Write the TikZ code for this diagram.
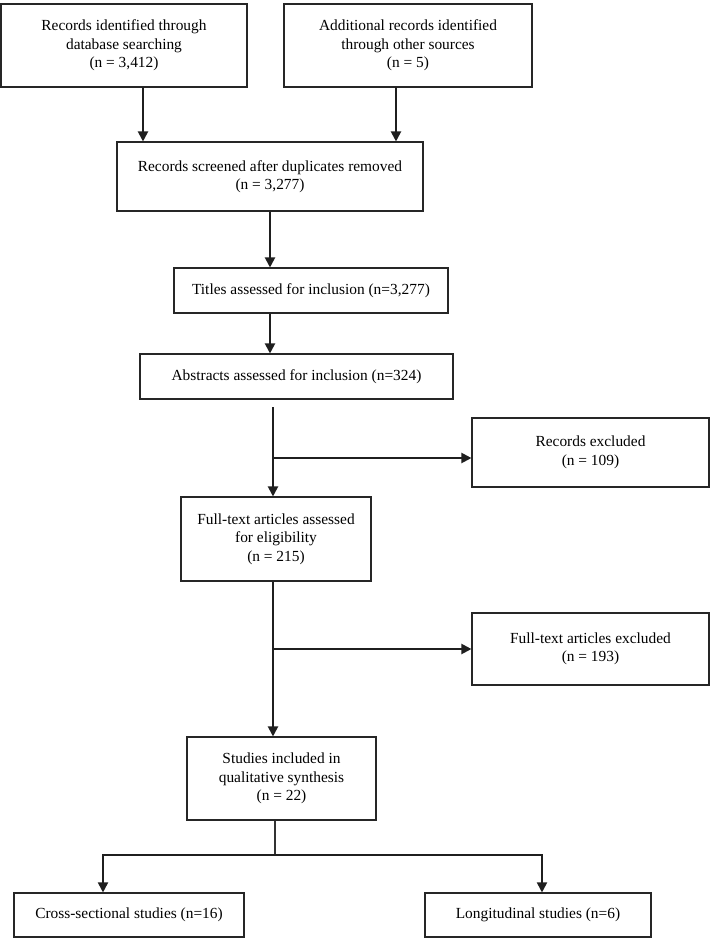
\documentclass[tikz,border=0pt]{standalone}
\usepackage{fontspec}
\setmainfont{Liberation Serif}
\usetikzlibrary{arrows.meta}
\begin{document}
\begin{tikzpicture}[x=1pt,y=-1pt,
  box/.style={draw=black!85, line width=1.1pt, align=center, inner sep=0pt,
    font=\fontsize{15.4}{18.5}\selectfont},
  arr/.style={draw=black!88, line width=2pt, -{Triangle[length=10pt,width=10pt]}},
  arrtwo/.style={draw=black!88, line width=1.8pt, {Triangle[length=10pt,width=10pt]}-{Triangle[length=10pt,width=10pt]}},
  thinline/.style={draw=black!80, line width=1.1pt}]
\useasboundingbox (0,0) rectangle (712,938);
\fill[white] (0,0) rectangle (712,938);

\node[box, minimum width=246pt, minimum height=83pt] (b1) at (124,45.5)
  {Records identified through\\database searching\\(n = 3,412)};
\node[box, minimum width=248pt, minimum height=83pt] (b2) at (408,45.5)
  {Additional records identified\\through other sources\\(n = 5)};
\node[box, minimum width=306pt, minimum height=69pt] (b3) at (270,176.5)
  {Records screened after duplicates removed\\(n = 3,277)};
\node[box, minimum width=274pt, minimum height=45pt] (b4) at (311,290.5)
  {Titles assessed for inclusion (n=3,277)};
\node[box, minimum width=313pt, minimum height=45pt] (b5) at (296.5,376.5)
  {Abstracts assessed for inclusion (n=324)};
\node[box, minimum width=237pt, minimum height=69pt] (b6) at (590.5,452.5)
  {Records excluded\\(n = 109)};
\node[box, minimum width=190pt, minimum height=84pt] (b7) at (276,539)
  {Full-text articles assessed\\for eligibility\\(n = 215)};
\node[box, minimum width=237pt, minimum height=72pt] (b8) at (590.5,649)
  {Full-text articles excluded\\(n = 193)};
\node[box, minimum width=189pt, minimum height=83pt] (b9) at (281.5,778.5)
  {Studies included in\\qualitative synthesis\\(n = 22)};
\node[box, minimum width=230pt, minimum height=44pt] (b10) at (129,915)
  {Cross-sectional studies (n=16)};
\node[box, minimum width=226pt, minimum height=44pt] (b11) at (538,915)
  {Longitudinal studies (n=6)};

\coordinate (a1) at (143,87);
\coordinate (a2) at (396,87);
\draw[arr] (a1) -- (a1 |- b3.north);
\draw[arr] (a2) -- (a2 |- b3.north);
\draw[arr] (b3.south) -- (b3.south |- b4.north);
\draw[arr] (b4.south -| b3.south) -- (b5.north -| b3.south);

\coordinate (c5) at (273,407);
\coordinate (j1) at (273,458);
\coordinate (j2) at (273,649);
\draw[arr] (c5) -- (c5 |- b7.north);
\draw[arr] (j1) -- (j1 -| b6.west);
\draw[arr] (c5 |- b7.south) -- (c5 |- b9.north);
\draw[arr] (j2) -- (j2 -| b8.west);

\coordinate (j3) at (275,855);
\coordinate (l) at (103,855);
\coordinate (r) at (542,855);
\draw[thinline] (j3 |- b9.south) -- (j3);
\draw[arrtwo] (l |- b10.north) -- (l) -- (r) -- (r |- b11.north);
\end{tikzpicture}
\end{document}
